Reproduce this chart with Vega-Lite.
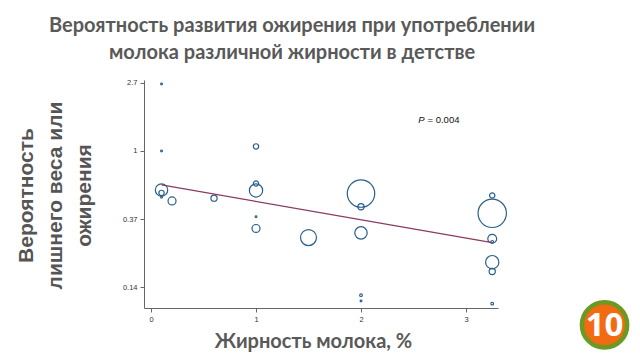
{
  "$schema": "https://vega.github.io/schema/vega-lite/v6.json",
  "width": 354,
  "height": 228,
  "autosize": "none",
  "padding": {"left": 144, "top": 80, "right": 142, "bottom": 52},
  "background": "white",
  "config": {"view": {"stroke": null}},
  "title": {
    "text": ["Вероятность развития ожирения при употреблении", "молока различной жирности в детстве"],
    "anchor": "middle",
    "frame": "group",
    "dx": -29,
    "font": "Lato",
    "fontSize": 20,
    "fontWeight": "bold",
    "color": "#595959",
    "lineHeight": 27,
    "baseline": "alphabetic",
    "offset": 0
  },
  "datasets": {
    "pts": [
      {"fat": 0.1, "prob": 2.68, "weight": 4},
      {"fat": 0.1, "prob": 1.0, "weight": 4},
      {"fat": 0.1, "prob": 0.563, "weight": 196},
      {"fat": 0.1, "prob": 0.54, "weight": 36},
      {"fat": 0.1, "prob": 0.506, "weight": 4},
      {"fat": 0.2, "prob": 0.48, "weight": 81},
      {"fat": 0.6, "prob": 0.50, "weight": 49},
      {"fat": 1.0, "prob": 1.07, "weight": 36},
      {"fat": 1.0, "prob": 0.62, "weight": 36},
      {"fat": 1.0, "prob": 0.56, "weight": 225},
      {"fat": 1.0, "prob": 0.38, "weight": 4},
      {"fat": 1.0, "prob": 0.32, "weight": 81},
      {"fat": 1.5, "prob": 0.28, "weight": 324},
      {"fat": 2.0, "prob": 0.535, "weight": 961},
      {"fat": 2.0, "prob": 0.44, "weight": 49},
      {"fat": 2.0, "prob": 0.30, "weight": 196},
      {"fat": 2.0, "prob": 0.12, "weight": 9},
      {"fat": 2.0, "prob": 0.11, "weight": 4},
      {"fat": 3.25, "prob": 0.52, "weight": 36},
      {"fat": 3.25, "prob": 0.40, "weight": 1024},
      {"fat": 3.25, "prob": 0.275, "weight": 100},
      {"fat": 3.25, "prob": 0.263, "weight": 9},
      {"fat": 3.25, "prob": 0.195, "weight": 225},
      {"fat": 3.25, "prob": 0.17, "weight": 49},
      {"fat": 3.25, "prob": 0.106, "weight": 9}
    ],
    "fit": [
      {"fat": 0.1, "prob": 0.607},
      {"fat": 3.25, "prob": 0.26}
    ],
    "ann": [
      {"fat": 2.605, "prob": 1.578}
    ],
    "badge": [
      {"fat": 4.32, "prob": 0.0775, "label": "10"}
    ]
  },
  "layer": [
    {
      "data": {"name": "pts"},
      "mark": {"type": "point", "filled": false, "stroke": "#2a5f8c", "strokeWidth": 1.2, "opacity": 1},
      "encoding": {
        "x": {
          "field": "fat", "type": "quantitative",
          "scale": {"domain": [-0.067, 3.305], "nice": false, "zero": false},
          "axis": {
            "values": [0, 1, 2, 3],
            "format": "d",
            "grid": false,
            "labelFont": "Liberation Sans",
            "labelFontSize": 7.5,
            "labelColor": "#333333",
            "labelPadding": 3,
            "tickSize": 4,
            "tickColor": "#666666",
            "domainColor": "#666666",
            "title": "Жирность молока, %",
            "titleFont": "Lato",
            "titleFontSize": 20,
            "titleFontWeight": "bold",
            "titleColor": "#595959",
            "titleX": 169,
            "titleY": 39,
            "titleAlign": "center",
            "titleBaseline": "alphabetic"
          }
        },
        "y": {
          "field": "prob", "type": "quantitative",
          "scale": {"type": "log", "domain": [0.0994, 2.84], "nice": false},
          "axis": {
            "values": [2.71828, 1, 0.36788, 0.13534],
            "format": ".2~r",
            "grid": false,
            "labelFont": "Liberation Sans",
            "labelFontSize": 7.5,
            "labelColor": "#333333",
            "labelPadding": 3,
            "tickSize": 4,
            "tickColor": "#666666",
            "domainColor": "#666666",
            "title": ["Вероятность", "лишнего веса или", "ожирения"],
            "titleFont": "Liberation Sans",
            "titleFontSize": 21,
            "titleFontWeight": "bold",
            "titleColor": "#555555",
            "titleAngle": -90,
            "titleX": -118,
            "titleY": 115,
            "titleAlign": "center",
            "titleBaseline": "middle",
            "titleLineHeight": 29
          }
        },
        "size": {
          "field": "weight", "type": "quantitative",
          "scale": {"domain": [0, 1024], "range": [0, 804], "zero": true},
          "legend": null
        }
      }
    },
    {
      "data": {"name": "fit"},
      "mark": {"type": "line", "color": "#8b3a62", "strokeWidth": 1.2},
      "encoding": {
        "x": {"field": "fat", "type": "quantitative"},
        "y": {"field": "prob", "type": "quantitative"}
      }
    },
    {
      "data": {"name": "ann"},
      "mark": {"type": "text", "text": "P", "font": "Liberation Sans", "fontStyle": "italic", "fontSize": 9.5, "align": "right", "baseline": "middle", "color": "#111111"},
      "encoding": {
        "x": {"field": "fat", "type": "quantitative"},
        "y": {"field": "prob", "type": "quantitative"}
      }
    },
    {
      "data": {"name": "ann"},
      "mark": {"type": "text", "text": "= 0.004", "font": "Liberation Sans", "fontSize": 9.5, "align": "left", "baseline": "middle", "color": "#111111", "dx": 3},
      "encoding": {
        "x": {"field": "fat", "type": "quantitative"},
        "y": {"field": "prob", "type": "quantitative"}
      }
    },
    {
      "data": {"name": "badge"},
      "mark": {"type": "point", "shape": "circle", "filled": true, "fill": "#f26a12", "stroke": "#6b9a22", "strokeWidth": 4.5, "opacity": 1, "size": 2050},
      "encoding": {
        "x": {"field": "fat", "type": "quantitative"},
        "y": {"field": "prob", "type": "quantitative"}
      }
    },
    {
      "data": {"name": "badge"},
      "mark": {"type": "text", "font": "Open Sans", "fontWeight": "bold", "fontSize": 33, "color": "white", "align": "center", "baseline": "middle", "dy": 1},
      "encoding": {
        "x": {"field": "fat", "type": "quantitative"},
        "y": {"field": "prob", "type": "quantitative"},
        "text": {"field": "label"}
      }
    }
  ]
}
